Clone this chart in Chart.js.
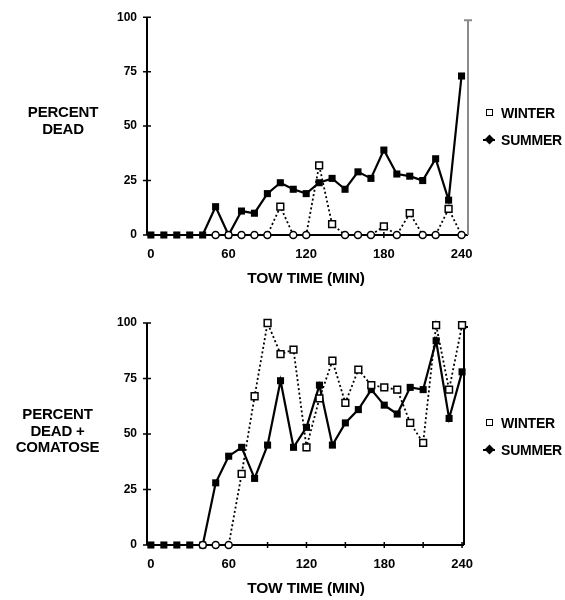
<!DOCTYPE html>
<html>
<head>
<meta charset="utf-8">
<script src="https://cdn.jsdelivr.net/npm/chart.js@4"></script>
<style>
  body { margin: 0; background: #fff; }
  #wrap { position: relative; width: 565px; height: 600px; overflow: hidden;
          font-family: "Liberation Sans", Arial, sans-serif; font-weight: bold; color: #000; }
  canvas { position: absolute; left: 0; }
  .ytitle { position: absolute; text-align: center; font-size: 15px; line-height: 16.5px; letter-spacing: -0.2px; }
  .xtitle { position: absolute; width: 200px; text-align: center; font-size: 15.5px; letter-spacing: -0.2px; }
  .leg { position: absolute; font-size: 14px; white-space: nowrap; letter-spacing: -0.2px; }
  .mk-w { position: absolute; width: 5px; height: 5px; border: 1.5px solid #000; background: #fff; }
  .mk-s { position: absolute; width: 7px; height: 7px; background: #000; transform: rotate(45deg); }
  .mk-line { position: absolute; width: 12px; height: 2px; background: #000; }
</style>
</head>
<body>
<div id="wrap">
  <canvas id="deadChart" width="565" height="300" style="top:0"></canvas>
  <canvas id="comaChart" width="565" height="300" style="top:300px"></canvas>

  <div class="ytitle" style="left:18px; top:104px; width:90px;">PERCENT<br>DEAD</div>
  <div class="ytitle" style="left:10px; top:406px; width:95px;">PERCENT<br>DEAD +<br>COMATOSE</div>

  <div class="xtitle" style="left:206px; top:269px;">TOW TIME (MIN)</div>
  <div class="xtitle" style="left:206px; top:579px;">TOW TIME (MIN)</div>

  <!-- legends -->
  <div class="mk-w" style="left:486px; top:109px;"></div>
  <div class="leg" style="left:501px; top:105px;">WINTER</div>
  <div class="mk-line" style="left:483px; top:139px;"></div>
  <div class="mk-s" style="left:486px; top:136px;"></div>
  <div class="leg" style="left:501px; top:132px;">SUMMER</div>

  <div class="mk-w" style="left:486px; top:419px;"></div>
  <div class="leg" style="left:501px; top:415px;">WINTER</div>
  <div class="mk-line" style="left:483px; top:449px;"></div>
  <div class="mk-s" style="left:486px; top:446px;"></div>
  <div class="leg" style="left:501px; top:442px;">SUMMER</div>
</div>

<script>
// tow time (min) for every sample
const towTimes = [0, 10, 20, 30, 40, 50, 60, 70, 80, 90, 100, 110, 120,
                  130, 140, 150, 160, 170, 180, 190, 200, 210, 220, 230, 240];

// percent dead
const deadSummer = [0, 0, 0, 0, 0, 13, 0, 11, 10, 19, 24, 21, 19,
                    24, 26, 21, 29, 26, 39, 28, 27, 25, 35, 16, 73];
const deadWinter = [null, null, null, null, null, 0, 0, 0, 0, 0, 13, 0, 0,
                    32, 5, 0, 0, 0, 4, 0, 10, 0, 0, 12, 0];

// percent dead + comatose
const comaSummer = [0, 0, 0, 0, 0, 28, 40, 44, 30, 45, 74, 44, 53,
                    72, 45, 55, 61, 70, 63, 59, 71, 70, 92, 57, 78];
const comaWinter = [null, null, null, null, 0, 0, 0, 32, 67, 100, 86, 88, 44,
                    66, 83, 64, 79, 72, 71, 70, 55, 46, 99, 70, 99];

const xTickLabels = [0, 60, 120, 180, 240];
const xTickMarks = [0, 30, 60, 90, 120, 150, 180, 210, 240];
const yTickLabels = [0, 25, 50, 75, 100];

const toPoints = (vals) => towTimes.map((t, i) => ({ x: t, y: vals[i] }));

// draws the axis lines and the little cross ticks like the original plot
const axesPlugin = {
  id: "axesPlugin",
  beforeDatasetsDraw(chart, args, opts) {
    const { ctx, chartArea } = chart;
    const xs = chart.scales.x;
    const ys = chart.scales.y;
    ctx.save();
    ctx.strokeStyle = "#000";
    ctx.lineWidth = 2;
    ctx.beginPath();
    // y axis
    ctx.moveTo(chartArea.left, chartArea.top);
    ctx.lineTo(chartArea.left, chartArea.bottom);
    // x axis
    ctx.moveTo(chartArea.left, chartArea.bottom);
    ctx.lineTo(chartArea.right, chartArea.bottom);
    ctx.stroke();

    ctx.lineWidth = 1.5;
    ctx.beginPath();
    yTickLabels.forEach((v) => {
      const py = ys.getPixelForValue(v);
      ctx.moveTo(chartArea.left - 4, py);
      ctx.lineTo(chartArea.left + 4, py);
    });
    xTickMarks.forEach((v) => {
      const px = xs.getPixelForValue(v);
      ctx.moveTo(px, chartArea.bottom - 3);
      ctx.lineTo(px, chartArea.bottom + 3);
    });
    ctx.stroke();

    // right frame line
    ctx.strokeStyle = opts.rightColor;
    ctx.lineWidth = 2;
    ctx.beginPath();
    ctx.moveTo(chartArea.right, chartArea.top + opts.rightTop);
    ctx.lineTo(chartArea.right, chartArea.bottom);
    ctx.moveTo(chartArea.right - 4, chartArea.top + opts.rightTop);
    ctx.lineTo(chartArea.right + 4, chartArea.top + opts.rightTop);
    ctx.stroke();
    ctx.restore();
  },
};

const makeChart = (canvasId, summer, winter, cfg) => {
  return new Chart(document.getElementById(canvasId), {
    type: "line",
    data: {
      datasets: [
        {
          label: "WINTER",
          data: toPoints(winter),
          borderColor: "#000",
          borderWidth: 1.8,
          borderDash: [2, 2.5],
          backgroundColor: "#fff",
          pointStyle: (c) => (c.raw && c.raw.y === 0 ? "circle" : "rect"),
          pointRadius: (c) => (c.raw && c.raw.y === 0 ? 3.5 : 4.8),
          pointBorderWidth: 1.5,
          pointBorderColor: "#000",
          pointBackgroundColor: "#fff",
          tension: 0,
          clip: false,
        },
        {
          label: "SUMMER",
          data: toPoints(summer),
          borderColor: "#000",
          borderWidth: 2.2,
          backgroundColor: "#000",
          pointStyle: "rect",
          pointRadius: 5,
          pointBorderWidth: 0,
          pointBackgroundColor: "#000",
          tension: 0,
          clip: false,
        },
      ],
    },
    options: {
      responsive: false,
      animation: false,
      devicePixelRatio: 1,
      layout: { padding: { top: cfg.top, right: cfg.right, left: 0, bottom: 0 } },
      plugins: {
        legend: { display: false },
        tooltip: { enabled: false },
        axesPlugin: { rightColor: cfg.rightColor, rightTop: cfg.rightTop },
      },
      scales: {
        x: {
          type: "linear",
          min: -3,
          max: cfg.xMax,
          grid: { display: false, drawTicks: false },
          border: { display: false },
          afterBuildTicks: (scale) => {
            scale.ticks = xTickLabels.map((v) => ({ value: v }));
          },
          afterFit: (scale) => { scale.height = cfg.xHeight; },
          ticks: {
            color: "#000",
            padding: 12,
            maxRotation: 0,
            autoSkip: false,
            font: { family: "Liberation Sans", size: 13, weight: "bold" },
          },
        },
        y: {
          min: 0,
          max: 100,
          grid: { display: false, drawTicks: false },
          border: { display: false },
          afterBuildTicks: (scale) => {
            scale.ticks = yTickLabels.map((v) => ({ value: v }));
          },
          afterFit: (scale) => { scale.width = 147; },
          ticks: {
            color: "#000",
            padding: 10,
            font: { family: "Liberation Sans", size: 12, weight: "bold" },
          },
        },
      },
    },
    plugins: [axesPlugin],
  });
};

makeChart("deadChart", deadSummer, deadWinter,
  { top: 12, right: 97, xMax: 245, xHeight: 65, rightColor: "#8a8a8a", rightTop: 3 });
makeChart("comaChart", comaSummer, comaWinter,
  { top: 23, right: 101, xMax: 241.5, xHeight: 55, rightColor: "#000", rightTop: 4 });
</script>
</body>
</html>
